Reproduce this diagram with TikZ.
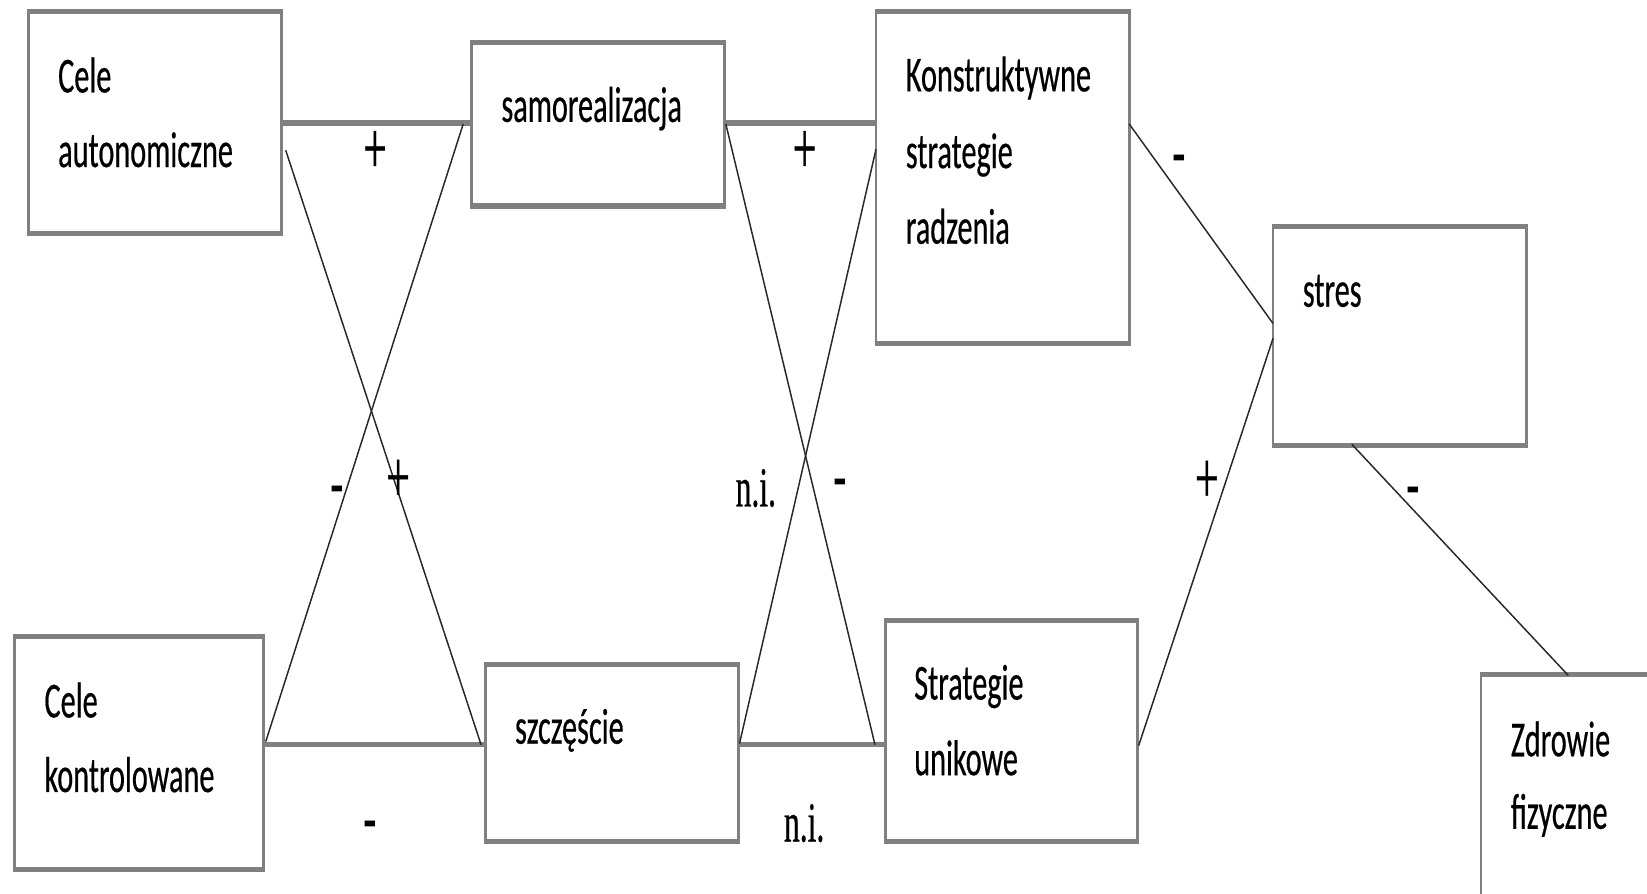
\documentclass[tikz,border=0pt]{standalone}
\usepackage{fontspec}
\setmainfont{Carlito}[FakeStretch=0.6,FakeBold=0.4]
\newfontfamily\lblserif{Liberation Serif}[FakeStretch=0.56,FakeBold=0.5]
\newfontfamily\lblsans{Liberation Sans}[FakeStretch=0.85]
\usetikzlibrary{fit}
\definecolor{boxgray}{RGB}{128,128,128}
\definecolor{linegray}{RGB}{40,40,40}
\begin{document}
\begin{tikzpicture}[x=0.5pt,y=-0.5pt,
  boxn/.style={draw=boxgray, line width=1.3pt, inner sep=0pt, rectangle},
  hedge/.style={draw=boxgray, line width=2.3pt},
  conn/.style={draw=boxgray, line width=2.6pt},
  thinl/.style={draw=linegray, line width=0.7pt},
  txt/.style={anchor=base west, inner sep=0pt, font=\fontsize{24}{28}\selectfont, text=black},
  plussign/.style={anchor=base, inner sep=0pt, font=\lblserif\fontsize{35.6}{40}\selectfont},
  minussign/.style={anchor=base, inner sep=0pt, font=\lblsans\bfseries\fontsize{23}{26}\selectfont},
  nilabel/.style={anchor=base west, inner sep=0pt, font=\lblserif\fontsize{26.8}{30}\selectfont},
]
\useasboundingbox (0,0) rectangle (1568,851);
\fill[white] (0,0) rectangle (1568,851);
\clip (0,0) rectangle (1568,851);

% boxes
\node[boxn, fit={(27,12) (268,221)}] (ca) {};
\node[boxn, fit={(449,42) (690,195)}] (sr) {};
\node[boxn, fit={(834,12) (1075,326)}] (kr) {};
\node[boxn, fit={(1212,217) (1453,423)}] (st) {};
\node[boxn, fit={(14,607) (251,827)}] (ck) {};
\node[boxn, fit={(462,634) (703,800)}] (sz) {};
\node[boxn, fit={(843,592) (1083,800)}] (su) {};
\node[boxn, fit={(1410,643) (1640,920)}] (zf) {};

\foreach \b in {ca,sr,kr,st,ck,sz,su,zf}{
  \draw[hedge] (\b.north west) -- (\b.north east);
  \draw[hedge] (\b.south west) -- (\b.south east);
}

% texts
\node[txt] (ca1) at (55,88) {Cele};
\node[txt] (ca2) at (55,159) {autonomiczne};
\node[txt] (sr1) at (477,116) {samorealizacja};
\node[txt] (kr1) at (862,87) {Konstruktywne};
\node[txt] (kr2) at (862,160) {strategie};
\node[txt] (kr3) at (862,232) {radzenia};
\node[txt] (st1) at (1240,292) {stres};
\node[txt] (ck1) at (42,683) {Cele};
\node[txt] (ck2) at (42,754) {kontrolowane};
\node[txt] (sz1) at (490,708) {szczęście};
\node[txt] (su1) at (870,666) {Strategie};
\node[txt] (su2) at (870,738) {unikowe};
\node[txt] (zf1) at (1438,720) {Zdrowie};
\node[txt] (zf2) at (1438,789) {fizyczne};

% endpoints
\coordinate (p1) at (272,143);
\coordinate (p2) at (458,709);
\coordinate (p3) at (253,706);
\coordinate (p4) at (441,118);
\coordinate (p5) at (691,118);
\coordinate (p6) at (833,709);
\coordinate (p7) at (704,708);
\coordinate (p8) at (834,142);
\coordinate (p9) at (1075,118);
\coordinate (p10) at (1212,308);
\coordinate (p11) at (1084,710);
\coordinate (p12) at (1212,322);
\coordinate (p13) at (1287,423);
\coordinate (p14) at (1493,643);

% thick horizontal connectors
\draw[conn] (ca.east |- 0,117) -- (sr.west |- 0,117);
\draw[conn] (sr.east |- 0,117) -- (kr.west |- 0,117);
\draw[conn] (ck.east |- 0,709) -- (sz.west |- 0,709);
\draw[conn] (sz.east |- 0,709) -- (su.west |- 0,709);

% thin connectors
\draw[thinl] (p1) -- (p2);
\draw[thinl] (p3) -- (p4);
\draw[thinl] (p5) -- (p6);
\draw[thinl] (p7) -- (p8);
\draw[thinl] (p9) -- (p10);
\draw[thinl] (p11) -- (p12);
\draw[thinl] (p13) -- (p14);

% labels
\node[plussign] (l1) at (357,165) {+};
\node[plussign] (l2) at (766,165) {+};
\node[minussign] (l3) at (1123,162) {-};
\node[minussign] (l4) at (321,477) {-};
\node[plussign] (l5) at (379,478) {+};
\node[nilabel] (l6) at (700,482) {n.i.};
\node[minussign] (l7) at (800,471) {-};
\node[plussign] (l8) at (1149,479) {+};
\node[minussign] (l9) at (1346,478) {-};
\node[minussign] (l10) at (353,796) {-};
\node[nilabel] (l11) at (746,801) {n.i.};
\end{tikzpicture}
\end{document}
